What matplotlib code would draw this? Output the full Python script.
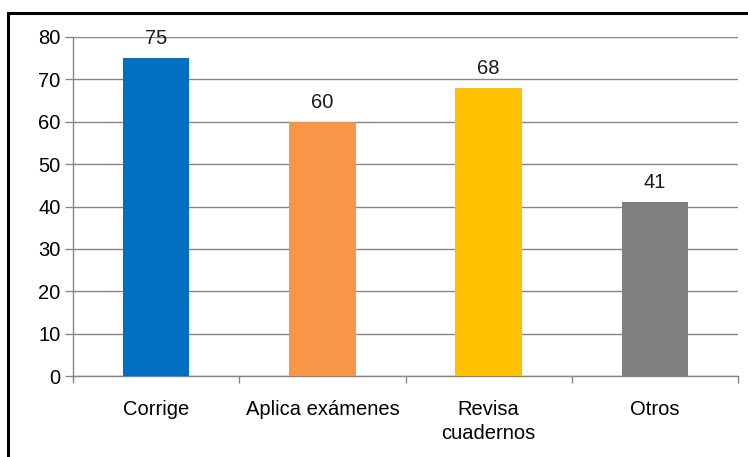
import matplotlib
matplotlib.use("Agg")
import matplotlib.pyplot as plt
from matplotlib.patches import Rectangle
import numpy as np

categories = ["Corrige", "Aplica exámenes", "Revisa\ncuadernos", "Otros"]
values = [75, 60, 68, 41]
colors = ["#0070C0", "#F79646", "#FFC000", "#808080"]
yticks = [0, 10, 20, 30, 40, 50, 60, 70, 80]

plt.rcParams['font.family'] = ['Liberation Sans', 'DejaVu Sans']
FS = 14.5

W, H = 748, 457
fig = plt.figure(figsize=(W/100, H/100), dpi=100)
ax = fig.add_axes([73/W, 1-376/H, (738-73)/W, (376-37)/H])

x = np.arange(len(categories))
ax.bar(x, values, width=0.4, color=colors, zorder=3)
for xi, v in zip(x, values):
    ax.annotate(str(v), (xi, v), xytext=(0, 10), textcoords='offset points',
                ha='center', va='baseline', fontsize=FS, color='#1a1a1a')

ax.set_xlim(-0.5, len(categories) - 0.5)
ax.set_ylim(0, 80)
ax.set_yticks(yticks)
ax.set_yticklabels([str(t) for t in yticks], fontsize=FS)
ax.yaxis.grid(True, color='#868686', linewidth=1, zorder=0)
ax.set_axisbelow(True)

ax.set_xticks(x)
ax.set_xticklabels(categories, fontsize=FS, linespacing=1.35)
ax.set_xticks(np.arange(-0.5, len(categories)), minor=True)
ax.tick_params(axis='x', which='major', length=0, pad=17)
ax.tick_params(axis='x', which='minor', length=5, color='#868686', width=1)
ax.tick_params(axis='y', length=6, color='#868686', width=1, pad=3)

for s in ['top', 'right']:
    ax.spines[s].set_visible(False)
for s in ['left', 'bottom']:
    ax.spines[s].set_color('#868686')
    ax.spines[s].set_linewidth(1)

fig.patches.append(Rectangle((8/W, -0.1), 1.2, 1 - 13/H + 0.1, transform=fig.transFigure,
                             fill=False, edgecolor='black', linewidth=2.2))

fig.savefig("out.png", dpi=100)
